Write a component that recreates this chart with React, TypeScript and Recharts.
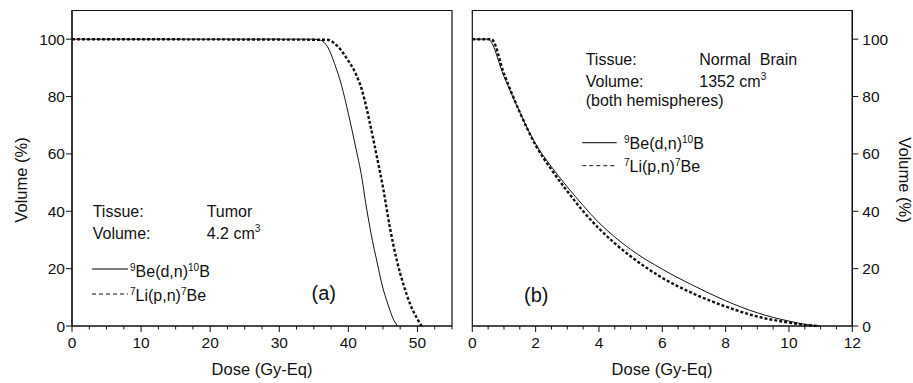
import { LineChart, Line, XAxis, YAxis, ReferenceArea } from 'recharts'

// tumor panel (a)
const tumorBeDose = [0, 35, 36, 37, 38, 39, 40, 41, 42, 42.5, 43, 43.5, 44, 45, 45.5, 46, 46.5, 47, 47.1]
const tumorBeVol = [100, 100, 99.6, 97.3, 91.5, 84, 74, 63, 51, 43, 36, 29.5, 24, 13.2, 9.2, 5.6, 2.4, 0.4, 0]
const tumorLiDose = [0, 37, 38, 39, 40, 41, 42, 43, 44, 45, 46, 47, 48, 49, 50, 50.6]
const tumorLiVol = [100, 99.8, 98.5, 96, 92.4, 88.3, 82, 72, 60.5, 48.5, 34.5, 23, 14.3, 7.3, 2.4, 0]

// normal brain panel (b)
const brainBeDose = [0, 0.5, 1, 1.5, 2, 2.5, 3, 3.5, 4, 4.5, 5, 6, 7, 8, 9, 10, 10.5, 11]
const brainBeVol = [100, 100, 87, 74.5, 63.5, 55.5, 48.5, 42, 36, 31, 26.7, 19.8, 14, 8.8, 4.6, 1.7, 0.6, 0]
const brainLiDose = [0, 0.6, 1, 1.5, 2, 2.5, 3, 3.5, 4, 4.5, 5, 6, 7, 8, 9, 10, 10.5, 10.9]
const brainLiVol = [100, 100, 88, 74.5, 63, 54.5, 47, 40, 34, 28.8, 24.3, 16.8, 11.2, 6.8, 3.3, 1.2, 0.4, 0]

const volTicks = [0, 20, 40, 60, 80, 100]
const tumorMajor = [0, 10, 20, 30, 40, 50]
const tumorTicks = [0, 2.5, 5, 7.5, 10, 12.5, 15, 17.5, 20, 22.5, 25, 27.5, 30, 32.5, 35, 37.5, 40, 42.5, 45, 47.5, 50, 52.5, 55]
const brainMajor = [0, 2, 4, 6, 8, 10, 12]
const brainTicks = [0, 0.5, 1, 1.5, 2, 2.5, 3, 3.5, 4, 4.5, 5, 5.5, 6, 6.5, 7, 7.5, 8, 8.5, 9, 9.5, 10, 10.5, 11, 11.5, 12]

const INK = '#111'
const FONT = '"Liberation Sans", Arial, sans-serif'

const toRows = (dose: number[], vol: number[]) => dose.map((d, i) => ({ dose: d, vol: vol[i] }))

function DoseTick({ x, y, payload, major }: any) {
  const isMajor = major.includes(payload.value)
  return (
    <g>
      <line x1={x} x2={x} y1={y} y2={y + (isMajor ? 6 : 3.5)} stroke={INK} strokeWidth={1} />
      {isMajor && (
        <text x={x} y={y + 22} textAnchor="middle" fontSize={15.5} fill={INK} fontFamily={FONT}>
          {payload.value}
        </text>
      )}
    </g>
  )
}

function Reaction({ x, y, pre, body, mid, tail }: { x: number; y: number; pre: string; body: string; mid: string; tail: string }) {
  return (
    <text x={x} y={y} fontSize={16} fill={INK} fontFamily={FONT}>
      <tspan fontSize={10} dy={-6}>{pre}</tspan>
      <tspan dy={6}>{body}</tspan>
      <tspan fontSize={10} dy={-6}>{mid}</tspan>
      <tspan dy={6}>{tail}</tspan>
    </text>
  )
}

const yTick = { fill: INK, fontSize: 15.5, fontFamily: FONT }

export default function App() {
  return (
    <div style={{ position: 'absolute', left: 0, top: 0, width: 913, height: 383, background: '#fff' }}>
      <div style={{ position: 'absolute', left: 0, top: 0 }}>
        <LineChart width={460} height={383} margin={{ top: 10.5, right: 8, bottom: 0, left: 0 }}>
          <XAxis type="number" dataKey="dose" domain={[0, 55]} ticks={tumorTicks} interval={0} height={57}
            axisLine={{ stroke: INK, strokeWidth: 1.2 }} tickLine={false} tickSize={0} tickMargin={0}
            tick={(p: any) => <DoseTick {...p} major={tumorMajor} />} />
          <YAxis type="number" domain={[0, 110]} ticks={volTicks} width={72} interval={0}
            axisLine={{ stroke: INK, strokeWidth: 1.2 }} tickLine={{ stroke: INK }} tickSize={6} tickMargin={1} tick={yTick} />
          <ReferenceArea x1={0} x2={55} y1={0} y2={110} fill="none" fillOpacity={0} stroke={INK} strokeWidth={1.2} />
          <Line data={toRows(tumorBeDose, tumorBeVol)} dataKey="vol" type="monotone" stroke={INK} strokeWidth={1}
            dot={false} isAnimationActive={false} />
          <Line data={toRows(tumorLiDose, tumorLiVol)} dataKey="vol" type="monotone" stroke={INK} strokeWidth={2.4}
            strokeDasharray="3 2" dot={false} isAnimationActive={false} />
        </LineChart>
      </div>
      <div style={{ position: 'absolute', left: 460, top: 0 }}>
        <LineChart width={453} height={383} margin={{ top: 10.5, right: 0, bottom: 0, left: 12.3 }}>
          <XAxis type="number" dataKey="dose" domain={[0, 12]} ticks={brainTicks} interval={0} height={57}
            axisLine={{ stroke: INK, strokeWidth: 1.2 }} tickLine={false} tickSize={0} tickMargin={0}
            tick={(p: any) => <DoseTick {...p} major={brainMajor} />} />
          <YAxis type="number" orientation="right" domain={[0, 110]} ticks={volTicks} width={60.7} interval={0}
            axisLine={{ stroke: INK, strokeWidth: 1.2 }} tickLine={{ stroke: INK }} tickSize={6} tickMargin={4} tick={yTick} />
          <ReferenceArea x1={0} x2={12} y1={0} y2={110} fill="none" fillOpacity={0} stroke={INK} strokeWidth={1.2} />
          <Line data={toRows(brainBeDose, brainBeVol)} dataKey="vol" type="monotone" stroke={INK} strokeWidth={1}
            dot={false} isAnimationActive={false} />
          <Line data={toRows(brainLiDose, brainLiVol)} dataKey="vol" type="monotone" stroke={INK} strokeWidth={2.4}
            strokeDasharray="3 2" dot={false} isAnimationActive={false} />
        </LineChart>
      </div>
      <svg width={913} height={383} style={{ position: 'absolute', left: 0, top: 0, pointerEvents: 'none' }}>
        <g fontFamily={FONT} fill={INK}>
          {/* axis titles */}
          <text x={262} y={375} fontSize={16.5} textAnchor="middle">Dose (Gy-Eq)</text>
          <text x={662} y={375} fontSize={16.5} textAnchor="middle">Dose (Gy-Eq)</text>
          <text x={26.5} y={180} fontSize={16.5} textAnchor="middle" transform="rotate(-90 26.5 180)">Volume (%)</text>
          <text x={898.5} y={180} fontSize={16.5} textAnchor="middle" transform="rotate(90 898.5 180)">Volume (%)</text>

          {/* panel (a) notes */}
          <text x={92.7} y={216.7} fontSize={16}>Tissue:</text>
          <text x={206.7} y={216.7} fontSize={16}>Tumor</text>
          <text x={92.7} y={239.3} fontSize={16}>Volume:</text>
          <text x={206.7} y={239.3} fontSize={16}>4.2 cm<tspan fontSize={10} dy={-7}>3</tspan></text>
          <line x1={92} x2={128} y1={269} y2={269} stroke="#555" strokeWidth={1.4} />
          <Reaction x={130} y={276.7} pre="9" body="Be(d,n)" mid="10" tail="B" />
          <line x1={92} x2={128} y1={294} y2={294} stroke={INK} strokeWidth={1} strokeDasharray="4 3" />
          <Reaction x={130} y={300.5} pre="7" body="Li(p,n)" mid="7" tail="Be" />
          <text x={311.5} y={300} fontSize={20}>(a)</text>

          {/* panel (b) notes */}
          <text x={585.7} y={65} fontSize={16}>Tissue:</text>
          <text x={699.3} y={65} fontSize={16}>Normal{'\u00a0\u00a0'}Brain</text>
          <text x={585.7} y={87.3} fontSize={16}>Volume:</text>
          <text x={699.3} y={87.3} fontSize={16}>1352 cm<tspan fontSize={10} dy={-7}>3</tspan></text>
          <text x={585.7} y={106} fontSize={16}>(both hemispheres)</text>
          <line x1={582.3} x2={616.7} y1={142.7} y2={142.7} stroke="#333" strokeWidth={1.2} />
          <Reaction x={624} y={148.5} pre="9" body="Be(d,n)" mid="10" tail="B" />
          <line x1={582.3} x2={616.7} y1={165.7} y2={165.7} stroke={INK} strokeWidth={1} strokeDasharray="4 3" />
          <Reaction x={624} y={171.5} pre="7" body="Li(p,n)" mid="7" tail="Be" />
          <text x={524} y={302} fontSize={20}>(b)</text>
        </g>
      </svg>
    </div>
  )
}
